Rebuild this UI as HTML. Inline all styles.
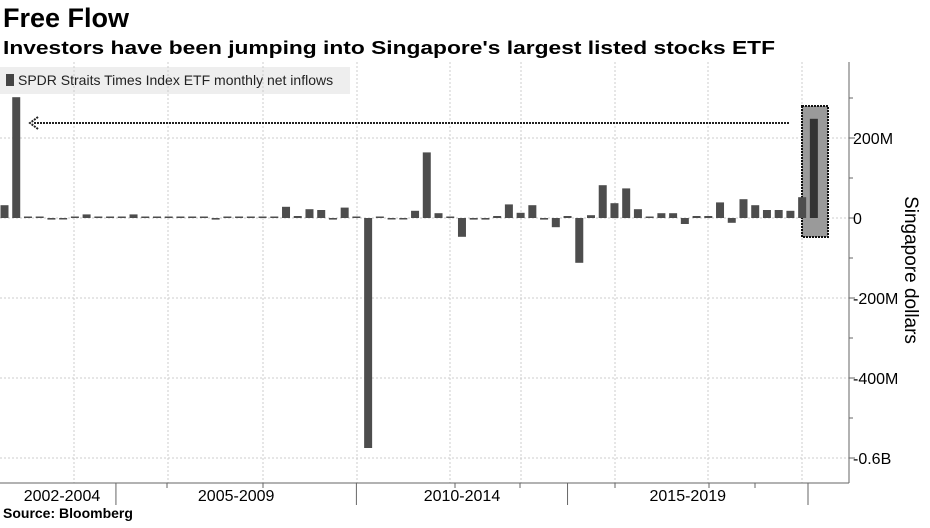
<!DOCTYPE html>
<html><head><meta charset="utf-8">
<style>
html,body{margin:0;padding:0;background:#fff;}
body{width:930px;height:523px;overflow:hidden;font-family:"Liberation Sans Narrow","Liberation Sans",sans-serif;}
svg text{font-family:"Liberation Sans Narrow","Liberation Sans",sans-serif;}
</style></head>
<body>
<svg id="chart" width="930" height="523" viewBox="0 0 930 523" xmlns="http://www.w3.org/2000/svg">
<text x="3" y="27" font-size="27" font-weight="bold" fill="#000">Free Flow</text>
<text x="3" y="54" font-size="18" font-weight="bold" fill="#000" font-family="Liberation Sans" textLength="772" lengthAdjust="spacingAndGlyphs">Investors have been jumping into Singapore's largest listed stocks ETF</text>
<rect x="0" y="67" width="350" height="27" fill="#eeeeee"/>
<rect x="6" y="74" width="8" height="12" fill="#444"/>
<text x="18" y="85" font-size="14" fill="#222">SPDR Straits Times Index ETF monthly net inflows</text>
<g id="grid"></g>
<g id="bars"></g>
<g id="axes"></g>
<text x="3" y="518" font-size="14" font-weight="bold" fill="#000">Source: Bloomberg</text>
<text transform="translate(905,270) rotate(90)" text-anchor="middle" font-size="19" fill="#000">Singapore dollars</text>
</svg>
<script>
const values = [32,302,1,0,-4,-2,0,9,0,0,0,9,0,0,0,0,0,0,-4,0,0,0,0,0,28,5,22,20,-4,26,1,-575,3,-2,-2,18,164,12,0,-47,-4,-4,5,34,13,32,-4,-23,5,-112,7,82,37,74,22,0,12,12,-15,5,5,39,-12,47,32,20,20,18,52,248];
const yTicks = [200,0,-200,-400,-600];
const yTickLabels = ["200M","0","-200M","-400M","-0.6B"];
const minorTicks = [300,100,-100,-300,-500];
const catLabels = ["2002-2004","2005-2009","2010-2014","2015-2019"];
const catStart = [0,9.5,30,48];
const catEnd = [9.5,30,48,68.5];

const NS="http://www.w3.org/2000/svg";
const x0=4.5, step=11.73, bw=8;
function xPos(i){return x0+step*i;}
function yPos(v){return 218 - v*0.4;}
function mk(tag,attrs,parent){const e=document.createElementNS(NS,tag);for(const k in attrs)e.setAttribute(k,attrs[k]);parent.appendChild(e);return e;}
const grid=document.getElementById('grid'), bars=document.getElementById('bars'), axes=document.getElementById('axes');

// vertical grid lines
[74,168,263,357,450,521,615,708,802].forEach(gx=>{
  const l=mk('line',{x1:gx,x2:gx,y1:62,y2:483,stroke:'#ccc','stroke-dasharray':'2,2','stroke-width':1},grid);
  
  
});
yTicks.forEach((t,k)=>{
  const y=yPos(t);
  const l=mk('line',{x1:0,x2:849,y1:y,y2:y,stroke:'#ccc','stroke-dasharray':'2,2','stroke-width':1},grid);
  
  
  const tk=mk('line',{x1:849,x2:855,y1:y,y2:y,stroke:'#666'},axes);
  
  
  const tx=mk('text',{x:853,y:y+6,'font-size':16,fill:'#000'},axes);
  tx.textContent=yTickLabels[k];
  
  
});
minorTicks.forEach(t=>{
  const y=yPos(t);
  const tk=mk('line',{x1:849,x2:853,y1:y,y2:y,stroke:'#666'},axes);
  
  
});

// highlight box
const hb=mk('rect',{x:802,y:106,width:26,height:131,fill:'#9a9a9a',stroke:'#111','stroke-width':2,'stroke-dasharray':'2,1'},bars);



values.forEach((v,i)=>{
  const y=Math.min(yPos(v),yPos(0));
  let h=Math.abs(yPos(v)-yPos(0));
  if(h<1.5)h=1.5;
  const r=mk('rect',{x:xPos(i)-bw/2,y:(v<0?yPos(0):y-(h>Math.abs(yPos(v)-yPos(0))?h-Math.abs(yPos(v)-yPos(0)):0)),width:bw,height:h,fill:i===values.length-1?'#333':'#4d4d4d'},bars);
  
  
});

// arrow
const ar=mk('line',{x1:34,x2:790,y1:123,y2:123,stroke:'#222','stroke-width':2,'stroke-dasharray':'2,1'},bars);


const ah=mk('path',{d:'M38,117 L30,123 L38,129',fill:'none',stroke:'#222','stroke-width':2,'stroke-dasharray':'2,1'},bars);



// axes lines
const ya=mk('line',{x1:849,x2:849,y1:62,y2:483,stroke:'#666','stroke-width':1},axes);


const xa=mk('line',{x1:0,x2:849,y1:483,y2:483,stroke:'#666','stroke-width':1},axes);


[167,263,455,520,615,709,755].forEach(tx=>{
  const t=mk('line',{x1:tx,x2:tx,y1:483,y2:488,stroke:'#666'},axes);
  
  
});
catLabels.forEach((c,k)=>{
  const sx=xPos(catEnd[k]);
  const sep=mk('line',{x1:sx,x2:sx,y1:483,y2:505,stroke:'#666'},axes);
  
  
  const cx=(xPos(catStart[k])+sx)/2;
  const t=mk('text',{x:k===0?62:cx,y:501,'font-size':16,'text-anchor':'middle',fill:'#000'},axes);
  t.textContent=c;
  
  
});
</script>
</body></html>
